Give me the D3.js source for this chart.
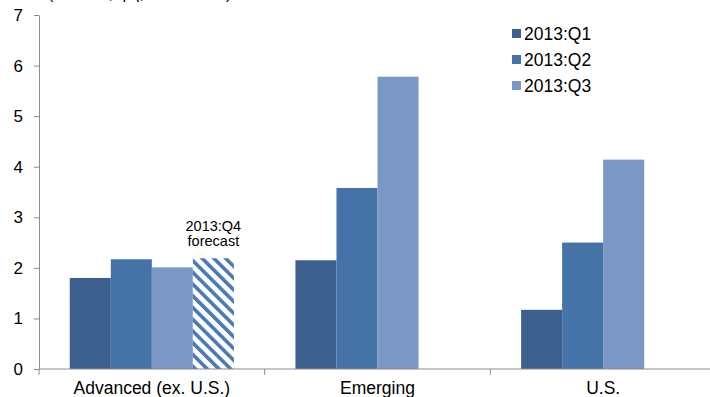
<!DOCTYPE html>
<html>
<head>
<meta charset="utf-8">
<script src="https://cdn.jsdelivr.net/npm/d3@7"></script>
<style>
  html, body { margin: 0; padding: 0; background: #fff; }
  svg { display: block; font-family: "Liberation Sans", Arial, sans-serif; }
</style>
</head>
<body>
<svg id="chart" width="710" height="397"></svg>
<script>
// Growth by region, quarterly (percent, q/q annualized)
const categories = ["Advanced (ex. U.S.)", "Emerging", "U.S."];
const seriesNames = ["2013:Q1", "2013:Q2", "2013:Q3"];
const q1 = [1.80, 2.15, 1.17];
const q2 = [2.17, 3.58, 2.50];
const q3 = [2.01, 5.78, 4.14];
const q4Forecast = [2.19, null, null];
const yTicks = [0, 1, 2, 3, 4, 5, 6, 7];
const colors = ["#3c5f8e", "#4573a8", "#7b97c3"];
const hatchColor = "#4a7ab3";

const svg = d3.select("#chart");
const W = 710, H = 397;
const margin = { left: 39, right: -6, top: 15, bottom: 28 };

const x = d3.scaleBand()
  .domain(categories)
  .range([margin.left, W - margin.right])
  .padding(0);

const slots = ["Q1", "Q2", "Q3", "Q4"];
const xIn = d3.scaleBand()
  .domain(slots)
  .range([0, x.bandwidth()])
  .paddingInner(0)
  .paddingOuter(0.75);

const y = d3.scaleLinear().domain([0, 7]).range([H - margin.bottom, margin.top]);

// hatch pattern for the forecast bar
const defs = svg.append("defs");
const pat = defs.append("pattern")
  .attr("id", "hatch")
  .attr("patternUnits", "userSpaceOnUse")
  .attr("width", 8.3).attr("height", 8.3)
  .attr("patternTransform", "rotate(-45)");
pat.append("rect").attr("width", 8.3).attr("height", 8.3).attr("fill", "#fff");
pat.append("rect").attr("x", 0).attr("y", 0).attr("width", 3.6).attr("height", 8.3).attr("fill", hatchColor);

// units caption running off the top edge
svg.append("text")
  .attr("x", 48).attr("y", -1)
  .attr("font-size", 16).attr("fill", "#000")
  .text("(Percent, q/q, annualized)");

// bars
const rows = categories.map((c, i) => ({ cat: c, vals: [q1[i], q2[i], q3[i]], fc: q4Forecast[i] }));
const g = svg.append("g");
rows.forEach(r => {
  r.vals.forEach((v, j) => {
    g.append("rect")
      .attr("x", x(r.cat) + xIn(slots[j]))
      .attr("y", y(v))
      .attr("width", xIn.bandwidth())
      .attr("height", y(0) - y(v))
      .attr("fill", colors[j]);
  });
  if (r.fc != null) {
    g.append("rect")
      .attr("x", x(r.cat) + xIn("Q4"))
      .attr("y", y(r.fc))
      .attr("width", xIn.bandwidth())
      .attr("height", y(0) - y(r.fc))
      .attr("fill", "url(#hatch)");
    const cx = x(r.cat) + xIn("Q4") + xIn.bandwidth() / 2;
    const lab = svg.append("text")
      .attr("x", cx).attr("text-anchor", "middle")
      .attr("font-size", 14.5).attr("fill", "#000");
    lab.append("tspan").attr("x", cx).attr("y", y(r.fc) - 27).text("2013:Q4");
    lab.append("tspan").attr("x", cx).attr("y", y(r.fc) - 12).text("forecast");
  }
});

// y axis
const yAxis = svg.append("g")
  .attr("transform", `translate(${margin.left},0)`)
  .call(d3.axisLeft(y).tickValues(yTicks).tickFormat(d3.format("d")).tickSize(5).tickSizeOuter(0).tickPadding(11));
yAxis.select(".domain").attr("stroke", "#8c8c8c");
yAxis.selectAll(".tick line").attr("stroke", "#8c8c8c");
yAxis.selectAll(".tick text").attr("font-size", 17).attr("fill", "#000")
  .attr("font-family", "Liberation Sans, Arial, sans-serif");

// x axis with ticks at category boundaries
const xAxisG = svg.append("g").attr("transform", `translate(0,${y(0)})`);
xAxisG.append("line")
  .attr("x1", margin.left).attr("x2", W - margin.right)
  .attr("stroke", "#8c8c8c");
categories.forEach(c => {
  xAxisG.append("line")
    .attr("x1", x(c)).attr("x2", x(c))
    .attr("y1", 0).attr("y2", 6)
    .attr("stroke", "#8c8c8c");
  xAxisG.append("text")
    .attr("x", x(c) + x.bandwidth() / 2)
    .attr("y", 25)
    .attr("text-anchor", "middle")
    .attr("font-size", 17.5).attr("fill", "#000")
    .text(c);
});

// legend
const leg = svg.append("g").attr("transform", "translate(512,29)");
seriesNames.forEach((s, i) => {
  const row = leg.append("g").attr("transform", `translate(0,${i * 26})`);
  row.append("rect").attr("width", 9).attr("height", 9).attr("fill", colors[i]);
  row.append("text").attr("x", 12).attr("y", 10.5)
    .attr("font-size", 17.5).attr("fill", "#000").text(s);
});
</script>
</body>
</html>
